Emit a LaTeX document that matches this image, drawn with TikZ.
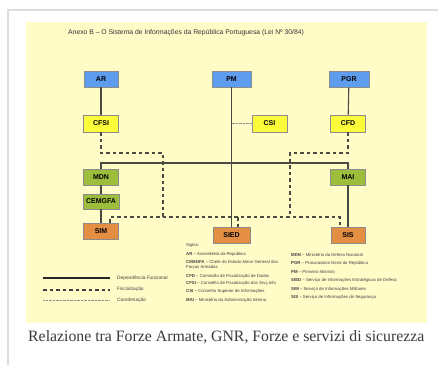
\documentclass[tikz,border=0pt]{standalone}
\usepackage{fontspec}
\setmainfont{Liberation Sans}
\newfontfamily\capfont{Liberation Serif}
\definecolor{bgyel}{HTML}{FFFCC8}
\definecolor{bluebox}{HTML}{5E9CEE}
\definecolor{yelbox}{HTML}{FBFB3A}
\definecolor{grnbox}{HTML}{9DBE3C}
\definecolor{orabox}{HTML}{E38E42}
\definecolor{linec}{HTML}{4A4A44}
\definecolor{framec}{HTML}{DDDDDD}
\definecolor{capc}{HTML}{3A3A3A}
\begin{document}
\begin{tikzpicture}[x=1pt,y=-1pt,
  orgbox/.style={draw=black!45, line width=0.6pt, minimum height=16pt, inner sep=0pt,
     font=\bfseries\fontsize{7}{8}\selectfont},
  bl/.style={orgbox, fill=bluebox},
  yl/.style={orgbox, fill=yelbox},
  gr/.style={orgbox, fill=grnbox},
  orr/.style={orgbox, fill=orabox},
  solidln/.style={draw=linec, line width=1.1pt},
  dashln/.style={draw=linec, line width=1.1pt, dash pattern=on 3.5pt off 3pt},
  dotln/.style={draw=black!45, line width=0.5pt, dash pattern=on 0.7pt off 0.7pt},
  tiny/.style={inner sep=0pt, anchor=west, text=black!75, font=\fontsize{4.3}{5}\selectfont},
  leg/.style={inner sep=0pt, anchor=west, text=black!75, font=\fontsize{4.8}{5.5}\selectfont}
]
\useasboundingbox (0,0) rectangle (438,365);
\fill[white] (0,0) rectangle (438,365);
\draw[framec, line width=2pt] (8,365) -- (8,10) -- (438,10);
\fill[bgyel] (26,22) rectangle (427,323);

\node[inner sep=0pt, anchor=west, text=black!80, font=\fontsize{6.8}{8}\selectfont] (title) at (68,33)
  {Anexo B – O Sistema de Informações da República Portuguesa (Lei Nº 30/84)};

% boxes
\node[bl, minimum width=34pt] (AR) at (101,79) {AR};
\node[bl, minimum width=39pt] (PM) at (231.5,79) {PM};
\node[bl, minimum width=40pt] (PGR) at (349,79) {PGR};
\node[yl, minimum width=35pt, minimum height=17pt] (CFSI) at (101,123.5) {CFSI};
\node[yl, minimum width=35pt, minimum height=17pt] (CSI) at (269.5,123.5) {CSI};
\node[yl, minimum width=35pt, minimum height=17pt] (CFD) at (348,123.5) {CFD};
\node[gr, minimum width=35pt] (MDN) at (101,177) {MDN};
\node[gr, minimum width=36pt, minimum height=15pt] (CEM) at (101,201.5) {CEMGFA};
\node[gr, minimum width=35pt] (MAI) at (348,177) {MAI};
\node[orr, minimum width=35pt] (SIM) at (101,231) {SIM};
\node[orr, minimum width=37pt] (SIED) at (231.5,235) {SIED};
\node[orr, minimum width=34pt] (SIS) at (348,235) {SIS};

% solid dependencies
\draw[solidln] (AR) -- (CFSI);
\draw[solidln] (PGR) -- (CFD);
\draw[solidln] (PM) -- (SIED);
\draw[solidln] (MDN) -- (CEM);
\draw[solidln] (CEM) -- (SIM);
\draw[solidln] (MAI) -- (SIS);
\coordinate (hl) at (101,163);
\coordinate (hr) at (348,163);
\draw[solidln] (MDN.north) -- (hl) -- (hr) -- (MAI.north);

% dashed fiscalization
\coordinate (c1) at (101,153);
\coordinate (c2) at (163,153);
\coordinate (c3) at (163,217);
\draw[dashln] (CFSI.south) -- (c1) -- (c2) -- (c3);
\coordinate (d1) at (348,153);
\coordinate (d2) at (290,153);
\coordinate (d3) at (290,217);
\draw[dashln] (CFD.south) -- (d1) -- (d2) -- (d3);
\coordinate (e1) at (110,217);
\coordinate (e2) at (340,217);
\draw[dashln] (SIM.north -| e1) -- (e1) -- (e2) -- (SIS.north -| e2);
\coordinate (e3) at (238,217);
\draw[dashln] (e3) -- (SIED.north -| e3);

% dotted coordination
\draw[dotln] (PM.south |- CSI.west) -- (CSI.west);

% legend
\coordinate (l1a) at (43,278); \coordinate (l1b) at (110,278);
\coordinate (l2a) at (43,290); \coordinate (l2b) at (110,290);
\coordinate (l3a) at (43,300); \coordinate (l3b) at (110,300);
\draw[solidln, line width=1.3pt, draw=black!85] (l1a) -- (l1b);
\draw[dashln, line width=1.3pt, draw=black!75] (l2a) -- (l2b);
\draw[dotln] (l3a) -- (l3b);
\node[leg] (lg1) at (117,278) {Dependência Funcional};
\node[leg] (lg2) at (117,289.5) {Fiscalização};
\node[leg] (lg3) at (117,300) {Coordenação};

% siglas
\node[tiny] (s0) at (186,245) {Siglas:};
\node[tiny] (s1) at (186,254) {\textbf{AR} – Assembleia da República};
\node[tiny, align=left] (s2) at (186,265) {\textbf{CEMGFA} – Chefe do Estado Maior General das\\Forças Armadas};
\node[tiny] (s3) at (186,276) {\textbf{CFD} – Comissão de Fiscalização de Dados};
\node[tiny] (s4) at (186,283.5) {\textbf{CFSI} – Conselho de Fiscalização dos Srvç.Info};
\node[tiny] (s5) at (186,291.5) {\textbf{CSI} – Conselho Superior de Informações};
\node[tiny] (s6) at (186,300) {\textbf{MAI} – Ministério da Administração Interna};
\node[tiny] (t1) at (291,254.5) {\textbf{MDN} – Ministério da Defesa Nacional};
\node[tiny] (t2) at (291,263) {\textbf{PGR} – Procuradoria Geral da República};
\node[tiny] (t3) at (291,271.5) {\textbf{PM} – Primeiro Ministro};
\node[tiny] (t4) at (291,280.5) {\textbf{SIED} – Serviço de Informações Estratégicas de Defesa};
\node[tiny] (t5) at (291,289) {\textbf{SIM} – Serviço de Informações Militares};
\node[tiny] (t6) at (291,297.5) {\textbf{SIS} – Serviço de Informações de Segurança};

% caption
\node[inner sep=0pt, anchor=west, text=capc, font=\capfont\fontsize{15.8}{18}\selectfont] (cap) at (28,337)
  {Relazione tra Forze Armate, GNR, Forze e servizi di sicurezza};
\end{tikzpicture}
\end{document}
